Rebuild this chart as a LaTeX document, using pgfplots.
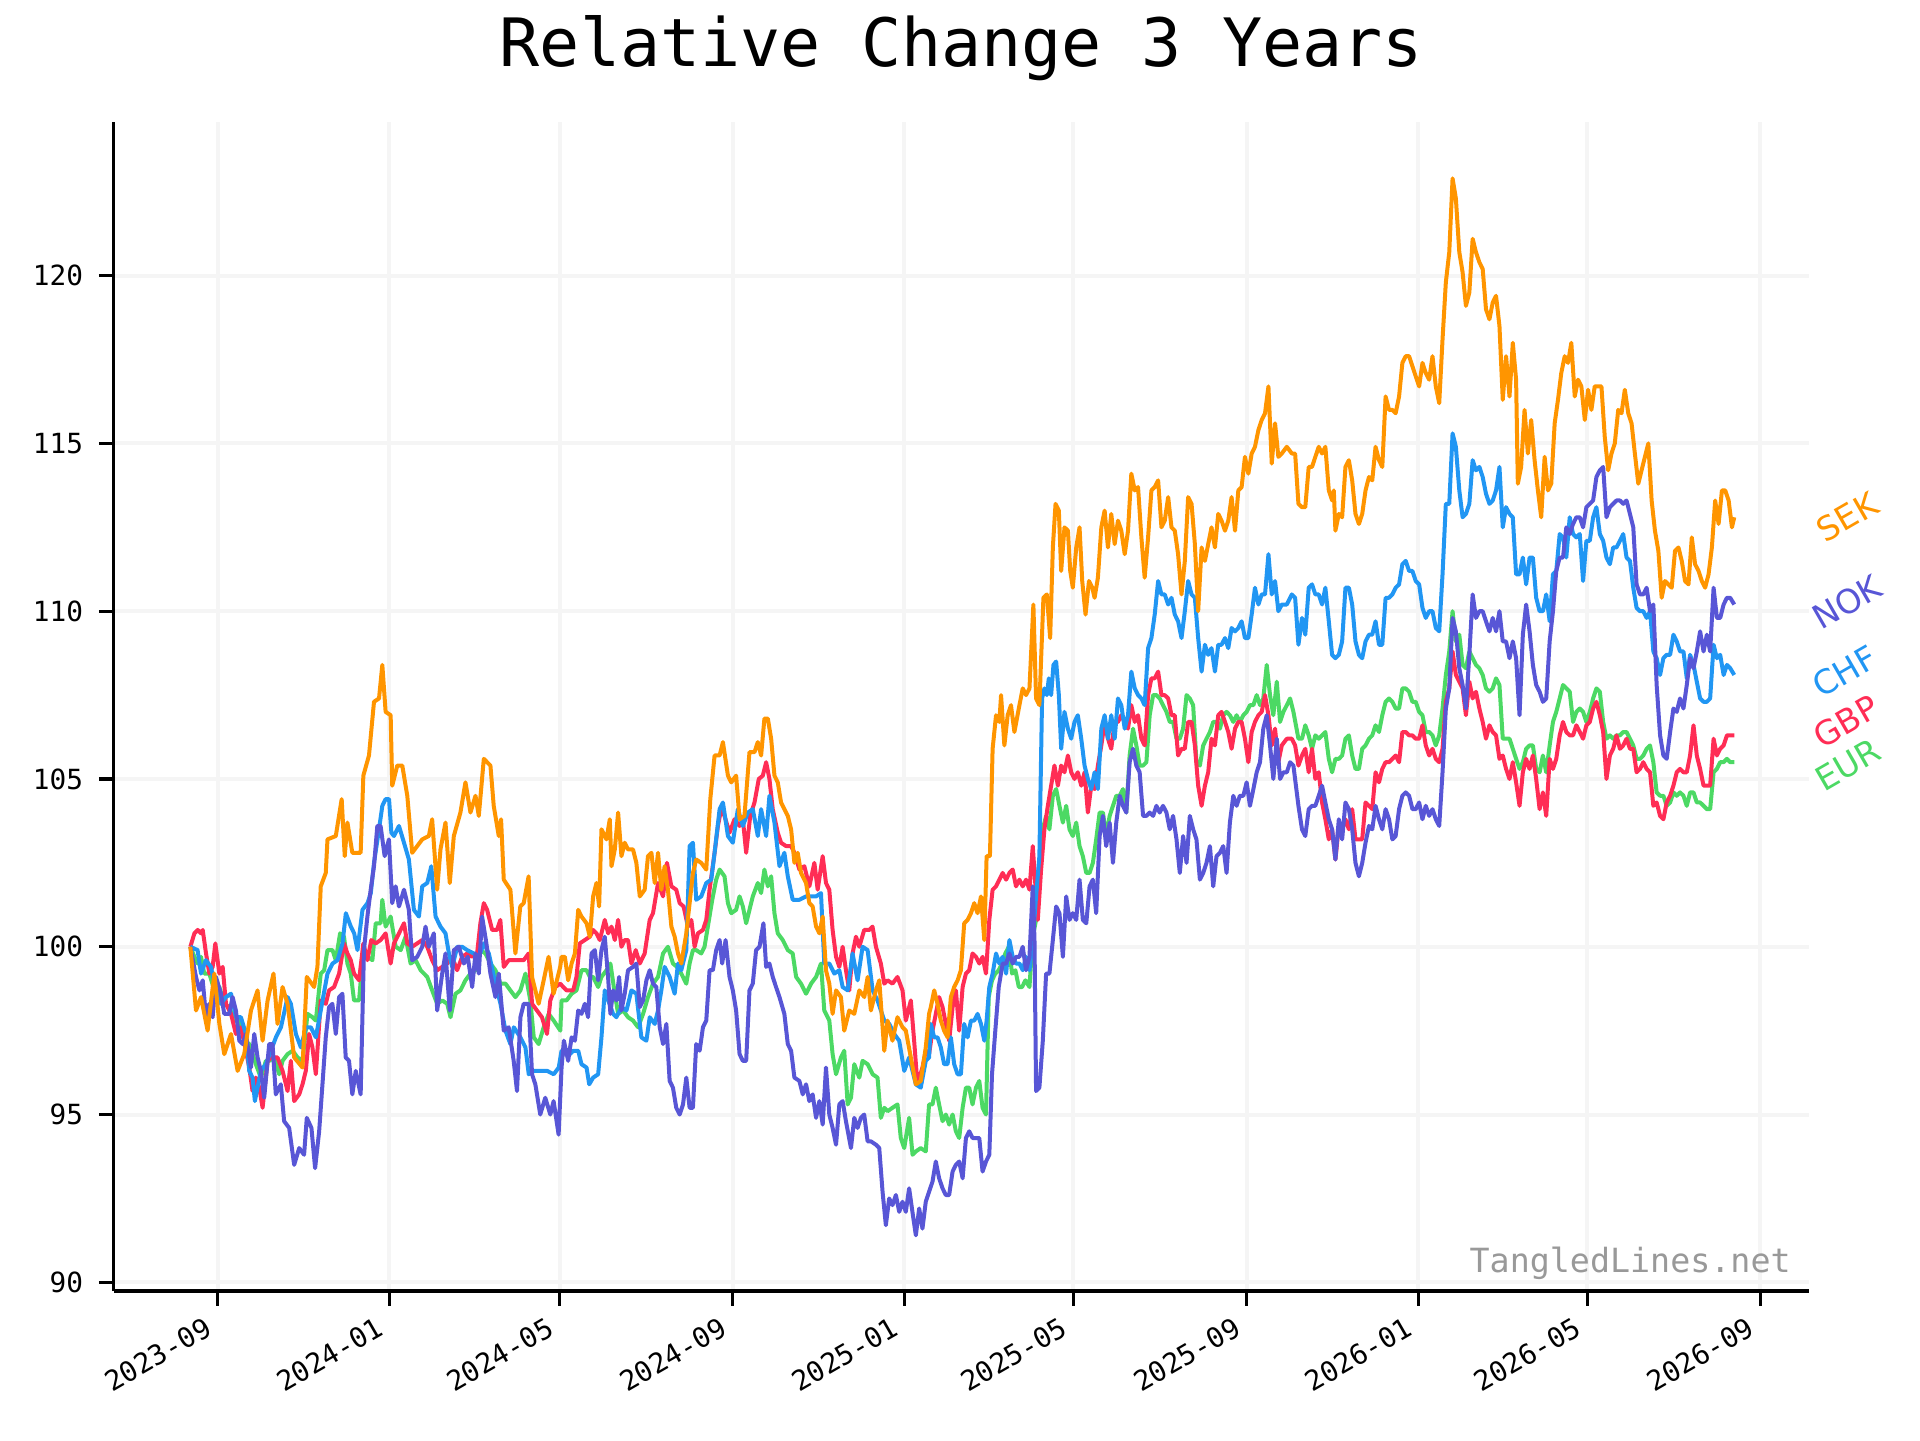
\documentclass[border=0pt]{standalone}
\usepackage{fontspec}
\setmainfont{DejaVu Sans Mono}
\newfontfamily\labelfont{DejaVu Sans}
\usepackage{pgfplots}
\pgfplotsset{compat=1.18}
\definecolor{sekc}{HTML}{FF9500}
\definecolor{nokc}{HTML}{5856D6}
\definecolor{chfc}{HTML}{2196F3}
\definecolor{gbpc}{HTML}{FF2D55}
\definecolor{eurc}{HTML}{4CD964}
\definecolor{gridc}{HTML}{F5F5F5}
\definecolor{wmc}{HTML}{999999}
\begin{document}
\begin{tikzpicture}
\useasboundingbox (-28.4pt,-37.25pt) rectangle (451.6pt,322.75pt);
\begin{axis}[
  scale only axis, width=423.9pt, height=292.25pt,
  xmin=93, xmax=1478, ymin=89.74, ymax=124.58,
  axis x line*=bottom, axis y line*=left,
  xtick pos=bottom, ytick pos=left,
  x axis line style={-, line width=0.9pt, black},
  y axis line style={-, line width=0.9pt, black},
  xtick={178,318.3,457.4,598.8,739,877,1018.4,1158.6,1296.6,1438},
  xticklabels={2023-09,2024-01,2024-05,2024-09,2025-01,2025-05,2025-09,2026-01,2026-05,2026-09},
  ytick={90,95,100,105,110,115,120},
  grid=major, grid style={line width=1pt, gridc},
  tick align=outside, major tick length=3.65pt,
  every tick/.style={black, line width=0.8pt},
  tick label style={font=\fontsize{6.94}{8}\selectfont},
  /pgf/number format/assume math mode=true,
  yticklabel style={anchor=east, inner sep=0pt, xshift=-3.8pt},
  xticklabel style={xshift=-3.5pt, yshift=-2.4pt, rotate=30, anchor=north east, inner sep=0pt},
  clip=false,
  every axis plot/.append style={line width=1pt, line join=round, mark=none},
]
% EUR
\addplot[eurc] coordinates {
(155.7,100.0)(159.0,99.7)(161.7,99.5)(164.4,99.7)(167.1,99.2)(171.2,99.2)(175.3,98.7)(179.4,98.8)(183.4,98.3)(187.5,98.2)(191.6,97.8)(195.7,97.8)(199.7,97.2)(203.8,97.1)(206.5,96.8)(209.2,96.5)(213.3,96.1)(217.4,96.6)(220.1,96.6)(224.2,96.7)(228.3,96.2)(231.0,96.6)(235.1,96.8)(239.2,96.9)(243.3,96.7)(247.3,96.6)(251.4,98.0)(255.5,97.9)(258.2,97.8)(262.2,99.2)(265.0,99.3)(267.7,99.9)(271.8,99.9)(274.5,99.6)(278.0,100.4)(281.2,100.3)(284.0,99.5)(286.7,99.2)(289.4,98.4)(293.5,98.4)(297.0,99.9)(300.3,99.7)(304.4,99.6)(307.1,100.7)(311.1,100.7)(312.5,101.4)(315.2,100.6)(319.3,100.9)(323.4,100.0)(327.5,99.9)(331.5,100.3)(335.6,99.5)(339.7,99.6)(343.8,99.3)(349.2,99.1)(353.2,98.7)(357.3,98.3)(361.4,98.4)(365.5,98.3)(368.2,97.9)(372.3,98.6)(376.3,98.7)(380.4,99.0)(384.5,99.2)(388.6,99.3)(392.6,99.9)(396.7,99.8)(400.8,99.5)(404.9,99.3)(409.0,98.9)(413.1,98.9)(417.1,98.7)(421.2,98.5)(425.3,98.7)(429.4,99.2)(433.4,98.4)(436.2,97.3)(440.2,97.1)(444.3,97.6)(448.4,98.0)(452.5,97.8)(457.9,97.5)
(458.9,98.4)(463.0,98.4)(467.1,98.6)(471.1,98.7)(475.2,99.3)(479.3,99.3)(482.0,99.1)(484.7,99.1)(488.8,98.8)(491.5,99.1)(495.6,99.3)(498.8,99.5)(501.6,98.8)(505.1,98.0)(509.2,98.1)(513.2,97.9)(517.3,97.8)(521.4,97.6)(525.5,98.0)(529.5,98.5)(533.6,98.9)(537.7,99.1)(541.8,99.8)(545.8,100.0)(549.9,99.5)(553.2,99.4)(556.7,99.2)(560.8,98.9)(563.5,99.5)(566.2,99.9)(568.9,99.9)(573.0,99.8)(575.7,100.0)(578.4,100.6)(582.0,101.4)(585.2,102.0)(588.0,102.3)(592.0,102.1)(594.8,101.3)(597.5,101.0)(601.5,101.1)(604.3,101.5)(607.0,101.2)(609.7,100.7)(612.4,101.1)(615.1,101.5)(619.2,101.9)(621.9,101.6)(624.6,102.3)(627.4,101.8)(630.1,102.1)(632.8,101.0)(635.5,100.4)(639.6,100.2)(643.7,99.9)(647.7,99.8)(650.5,99.1)(654.5,98.9)(658.6,98.6)(662.7,98.9)(666.8,99.1)(670.8,99.5)(673.5,98.1)(677.6,97.8)(680.3,96.8)(683.1,96.2)(687.1,96.7)(689.8,96.9)(692.6,95.3)(695.3,95.5)(698.0,96.5)(702.1,96.1)(704.8,96.6)(708.9,96.5)(713.0,96.2)(717.0,96.1)(719.7,94.9)(722.5,95.2)(725.2,95.1)(729.2,95.2)(733.3,95.3)(736.0,94.3)(738.8,94.0)(742.8,94.9)(745.6,93.8)(748.3,93.9)(752.3,94.0)(756.4,93.9)(759.1,95.3)
(761.9,95.3)(764.6,95.8)(767.3,95.3)(770.1,94.8)(772.8,95.0)(775.5,94.7)(778.3,95.0)(781.0,94.5)(783.7,94.3)(786.5,95.2)(789.2,95.8)(791.9,95.8)(794.6,95.3)(797.4,95.8)(800.1,96.0)(802.8,95.2)(805.6,95.0)(807.8,98.5)(810.5,99.0)(813.2,99.2)(816.0,99.3)(818.7,99.5)(821.4,99.8)(824.2,100.0)(826.9,99.2)(829.6,99.3)(832.4,98.8)(835.1,98.8)(837.8,99.0)(841.1,98.8)(843.8,100.3)(846.5,100.8)(849.2,102.2)(852.0,103.5)(854.7,103.9)(857.4,103.5)(860.2,104.5)(862.9,104.7)(865.6,104.2)(868.4,103.7)(871.1,104.2)(873.8,103.5)(876.5,103.3)(879.3,103.7)(882.0,103.0)(884.7,102.7)(887.5,102.2)(890.2,102.2)(892.9,102.5)(895.6,103.2)(898.4,104.0)(901.1,104.0)(903.8,103.3)(906.6,103.9)(909.3,104.2)(912.0,104.5)(914.8,104.5)(917.5,104.7)(920.2,104.0)(922.9,105.7)(925.7,106.5)(928.4,106.0)(931.1,105.4)(933.9,105.4)(936.6,105.5)(939.3,106.9)(942.1,107.5)(944.8,107.5)(947.5,107.4)(950.2,107.2)(953.0,107.0)(955.7,106.7)(958.4,106.7)(961.2,106.2)(963.9,106.2)(966.6,106.5)(969.4,107.5)(972.1,107.4)(974.8,107.2)(977.5,105.5)(980.3,105.4)(983.0,106.0)(985.7,106.2)(988.5,106.4)(991.2,106.7)(993.9,106.7)(996.7,106.5)(999.4,106.9)(1002.1,107.0)(1004.8,106.9)(1007.6,106.7)(1010.3,106.9)(1013.0,106.7)(1015.8,106.9)(1018.5,107.0)(1021.2,107.2)(1024.0,107.2)(1026.7,107.5)(1029.4,107.2)(1032.1,107.4)(1034.9,108.4)(1037.6,107.5)(1040.3,106.9)(1043.1,107.9)(1045.8,106.7)(1048.5,107.0)(1051.3,107.2)(1054.0,107.4)(1056.7,107.0)(1060.8,106.2)
(1063.7,106.2)(1066.4,106.6)(1069.2,106.3)(1071.9,105.9)(1074.6,106.3)(1077.4,106.2)(1080.1,106.3)(1082.8,106.4)(1085.6,105.6)(1088.3,105.2)(1091.0,105.6)(1093.8,105.6)(1096.5,105.7)(1099.2,106.2)(1102.0,106.3)(1104.7,105.7)(1107.4,105.3)(1110.2,105.3)(1112.9,105.9)(1115.6,106.0)(1118.4,106.2)(1121.1,106.3)(1123.8,106.6)(1126.6,106.4)(1129.3,106.9)(1132.0,107.3)(1134.8,107.4)(1137.5,107.3)(1140.2,107.1)(1143.0,107.1)(1145.7,107.7)(1148.4,107.7)(1151.2,107.6)(1153.9,107.3)(1156.6,107.3)(1159.4,107.0)(1162.1,106.9)(1164.8,106.4)(1167.6,106.4)(1170.3,106.3)(1173.0,106.0)(1175.8,106.3)(1178.5,107.1)(1181.2,108.1)(1184.0,108.8)(1186.7,110.0)(1189.4,109.1)(1192.2,109.3)(1194.9,108.4)(1197.6,108.3)(1200.4,108.8)(1203.1,108.6)(1205.8,108.4)(1208.6,108.3)(1211.3,108.1)(1214.0,107.7)(1216.8,107.6)(1219.5,107.7)(1222.2,108.0)(1225.0,107.8)(1227.7,106.2)(1230.4,106.2)(1233.2,106.2)(1235.9,105.9)(1238.6,105.6)(1241.4,105.3)(1244.1,105.5)(1246.8,105.9)(1249.6,106.0)(1252.3,106.0)(1255.0,105.3)(1257.8,105.2)(1260.5,105.7)(1263.2,105.2)(1266.0,106.0)(1268.7,106.7)(1271.4,107.0)(1274.2,107.4)(1276.9,107.8)(1279.6,107.7)(1282.4,107.6)(1285.1,106.7)(1287.8,107.0)(1290.6,107.1)(1293.3,107.0)(1296.0,106.7)(1298.8,107.0)(1301.5,107.4)(1304.2,107.7)(1307.0,107.6)(1309.7,106.7)(1312.4,106.2)(1315.2,106.3)(1317.9,106.2)(1320.6,106.3)(1323.4,106.3)(1326.1,106.4)(1328.8,106.4)(1331.6,106.2)(1334.3,106.0)(1337.0,105.6)(1339.8,105.6)(1342.5,105.7)(1345.2,105.9)(1348.0,106.0)(1350.7,105.5)(1353.4,104.6)(1356.2,104.5)(1358.9,104.5)(1361.6,104.2)(1364.4,104.3)(1367.1,104.6)(1369.8,104.5)(1372.5,104.6)(1375.3,104.5)(1378.0,104.2)(1380.7,104.6)(1383.5,104.6)(1386.2,104.3)(1388.9,104.3)(1391.7,104.2)(1394.4,104.1)(1397.1,104.1)(1399.9,105.2)(1402.6,105.3)(1405.3,105.5)(1408.1,105.5)(1410.8,105.6)(1413.5,105.5)(1416.8,105.5)
};
% GBP
\addplot[gbpc] coordinates {
(155.7,100.0)(159.0,100.4)(161.7,100.5)(164.4,100.4)(165.8,100.5)(168.5,99.8)(171.2,99.2)(173.9,99.4)(176.1,100.1)(179.4,99.2)(182.1,99.4)(184.8,98.3)(188.9,98.0)(192.9,97.4)(197.0,97.6)(201.1,96.9)(203.8,96.4)(206.5,95.7)(209.2,96.1)(212.0,95.8)(214.7,95.2)(218.8,96.6)(221.5,96.7)(226.9,96.7)(231.0,96.3)(235.1,95.7)(237.8,96.6)(240.5,95.4)(244.6,95.6)(247.3,95.9)(250.0,96.3)(252.7,97.4)(255.4,97.0)(258.2,96.2)(262.2,98.4)(266.3,98.3)(269.0,98.7)(273.1,98.8)(277.2,99.2)(281.2,100.1)(284.0,99.8)(286.7,99.6)(289.4,99.2)(293.5,99.0)(297.0,100.1)(300.3,99.6)(303.5,100.2)(307.1,100.1)(311.1,100.2)(315.2,100.4)(319.3,99.5)(322.0,100.1)(326.1,100.4)(330.2,100.7)(332.9,100.1)(336.9,100.0)(341.0,100.1)(345.1,100.2)(349.2,100.0)(353.2,99.6)(357.3,99.3)(361.4,99.4)(365.5,99.5)(369.5,99.7)(373.6,99.3)(377.7,99.7)(381.8,99.8)(385.9,99.7)(389.9,99.8)(392.6,100.7)(395.4,101.3)(398.1,101.1)(402.2,100.5)(406.2,100.5)(408.9,100.8)(411.7,99.4)(415.7,99.6)(419.8,99.6)(423.9,99.6)(428.0,99.6)(432.0,99.8)(434.8,98.3)(438.8,98.1)(442.9,97.9)(447.0,97.4)(449.7,98.4)(453.8,98.8)(457.8,98.9)
(460.3,98.8)(463.0,98.7)(465.7,98.7)(468.4,98.7)(471.1,99.1)(473.8,100.1)(477.9,100.2)(482.0,100.3)(484.7,100.5)(487.4,100.4)(490.1,100.2)(494.2,100.8)(497.0,100.4)(499.7,100.6)(502.4,100.2)(505.1,100.8)(507.8,100.0)(510.5,100.2)(513.2,100.2)(516.0,99.5)(519.5,99.9)(522.8,99.5)(526.8,99.8)(530.9,100.8)(533.6,101.0)(537.7,101.9)(541.8,101.5)(545.0,102.5)(548.6,101.8)(552.6,101.7)(555.4,101.3)(558.6,101.2)(562.1,100.6)(564.9,100.8)(567.6,100.0)(570.3,100.4)(574.4,100.5)(577.1,100.8)(579.8,101.7)(583.9,102.8)(586.6,103.6)(589.3,104.1)(592.0,103.9)(596.1,103.4)(600.2,103.8)(604.3,103.6)(607.0,103.8)(609.7,102.8)(613.0,103.9)(616.5,104.3)(620.0,105.0)(623.3,105.1)(626.0,105.5)(628.7,105.0)(631.4,104.1)(635.5,103.4)(638.2,103.1)(642.3,103.0)(646.4,103.0)(649.1,102.8)(653.2,102.3)(657.2,102.4)(661.3,101.8)(665.4,102.5)(668.1,101.7)(672.2,102.7)(674.9,101.9)(677.6,101.7)(680.3,100.5)(683.1,99.7)(685.8,99.4)(688.5,100.0)(691.2,99.3)(693.9,98.7)(696.6,99.8)(699.4,100.3)(702.1,100.0)(706.1,100.5)(710.2,100.5)(712.9,100.6)(715.7,100.0)(719.7,99.5)(722.5,98.9)(725.2,99.0)(729.2,98.9)(733.3,99.1)(737.4,98.7)(740.1,97.8)(744.2,98.4)(746.9,97.2)(749.6,95.9)(753.7,96.4)(756.4,96.9)(759.1,96.8)
(761.9,97.5)(764.6,98.0)(767.3,98.5)(770.1,98.2)(772.8,97.7)(775.5,97.2)(778.3,98.2)(781.0,98.7)(783.7,97.5)(786.5,98.8)(789.2,99.2)(791.9,99.3)(794.6,99.8)(797.4,99.7)(800.1,99.5)(802.8,99.7)(805.6,99.2)(808.3,100.8)(811.0,101.7)(813.8,101.8)(816.5,102.0)(819.2,102.2)(822.0,102.0)(824.7,102.2)(827.4,102.3)(830.1,101.8)(832.9,102.0)(835.6,101.8)(838.3,102.0)(841.1,101.7)(843.8,103.0)(846.0,101.8)(847.9,100.8)(850.6,102.3)(853.3,103.5)(856.1,104.2)(858.8,104.8)(861.5,105.4)(864.3,104.8)(867.0,105.4)(869.7,105.2)(872.5,105.7)(875.2,105.2)(877.9,105.0)(880.6,105.2)(883.4,104.8)(886.1,105.2)(888.8,104.0)(891.6,104.8)(894.3,104.7)(897.0,105.4)(899.8,106.0)(902.5,106.7)(905.2,106.2)(907.9,105.9)(910.7,106.7)(913.4,106.7)(916.1,106.9)(918.9,106.7)(921.6,106.5)(924.3,107.2)(927.1,106.7)(929.8,106.9)(932.5,106.2)(935.2,106.0)(938.0,107.5)(940.7,108.0)(943.4,108.0)(946.2,108.2)(948.9,107.5)(951.6,107.5)(954.4,107.4)(957.1,106.9)(959.8,106.9)(962.5,105.7)(965.3,105.9)(968.0,105.9)(970.7,106.7)(973.5,106.7)(976.2,106.0)(978.9,104.8)(981.7,104.2)(984.4,104.8)(987.1,105.2)(989.8,106.2)(992.6,106.0)(995.3,106.9)(998.0,107.0)(1000.8,106.7)(1003.5,106.4)(1006.2,105.9)(1009.0,106.5)(1011.7,106.7)(1014.4,106.7)(1017.1,106.2)(1019.9,105.5)(1022.6,106.4)(1025.3,106.7)(1028.1,106.9)(1030.8,107.0)(1033.5,107.5)(1036.3,106.9)(1039.0,106.0)(1041.7,106.5)(1044.4,105.5)(1047.2,106.0)(1051.3,106.2)(1055.4,106.2)(1058.1,106.0)(1060.8,105.4)
(1063.7,105.7)(1066.4,105.9)(1069.2,105.2)(1071.9,105.9)(1074.6,105.0)(1077.4,105.2)(1080.1,104.3)(1082.8,103.8)(1085.6,103.2)(1088.3,103.5)(1091.0,102.6)(1093.8,103.6)(1096.5,103.5)(1099.2,103.8)(1102.0,103.5)(1104.7,104.1)(1107.4,103.2)(1110.2,103.2)(1112.9,103.2)(1115.6,104.3)(1118.4,104.2)(1121.1,104.1)(1123.8,105.2)(1126.6,104.9)(1129.3,105.3)(1132.0,105.5)(1134.8,105.5)(1137.5,105.6)(1140.2,105.7)(1143.0,105.5)(1145.7,106.4)(1148.4,106.4)(1151.2,106.3)(1153.9,106.3)(1156.6,106.2)(1159.4,106.2)(1162.1,106.6)(1164.8,106.0)(1167.6,105.7)(1170.3,105.9)(1173.0,105.6)(1175.8,105.5)(1178.5,105.9)(1181.2,107.3)(1184.0,107.7)(1186.7,108.8)(1189.4,108.1)(1192.2,107.9)(1194.9,107.7)(1197.6,106.9)(1200.4,107.9)(1203.1,107.4)(1205.8,107.6)(1208.6,107.1)(1211.3,106.7)(1214.0,106.2)(1216.8,106.6)(1219.5,106.4)(1222.2,106.3)(1225.0,105.6)(1227.7,105.7)(1230.4,105.3)(1233.2,105.0)(1235.9,105.5)(1238.6,104.9)(1241.4,104.2)(1244.1,105.2)(1246.8,105.6)(1249.6,105.3)(1252.3,105.7)(1255.0,105.0)(1257.8,104.1)(1260.5,104.6)(1263.2,103.9)(1266.0,105.6)(1268.7,105.3)(1271.4,105.6)(1274.2,106.3)(1276.9,106.7)(1279.6,106.4)(1282.4,106.3)(1285.1,106.3)(1287.8,106.6)(1290.6,106.4)(1293.3,106.2)(1296.0,106.6)(1298.8,106.7)(1301.5,107.1)(1304.2,107.3)(1307.0,106.9)(1309.7,106.4)(1312.4,105.0)(1315.2,105.7)(1317.9,105.9)(1320.6,106.3)(1323.4,105.9)(1326.1,106.0)(1328.8,106.2)(1331.6,105.9)(1334.3,105.9)(1337.0,105.2)(1339.8,105.3)(1342.5,105.5)(1345.2,105.3)(1348.0,105.2)(1350.7,104.2)(1353.4,104.3)(1356.2,103.9)(1358.9,103.8)(1361.6,104.3)(1364.4,104.5)(1367.1,104.8)(1369.8,105.2)(1372.5,105.3)(1375.3,105.2)(1378.0,105.2)(1380.7,105.7)(1383.5,106.6)(1386.2,105.7)(1388.9,105.3)(1391.7,104.8)(1394.4,104.8)(1397.1,104.8)(1399.9,106.2)(1402.6,105.7)(1405.3,105.9)(1408.1,106.0)(1410.8,106.3)(1413.5,106.3)(1416.8,106.3)
};
% CHF
\addplot[chfc] coordinates {
(155.7,100.0)(161.6,99.9)(164.4,99.2)(168.4,99.6)(172.5,99.4)(176.6,98.7)(180.7,98.3)(184.8,98.5)(188.9,98.6)(193.0,97.9)(197.0,97.9)(201.1,97.4)(203.8,96.3)(206.5,96.1)(208.4,95.4)(213.3,96.3)(217.4,96.5)(221.5,96.9)(225.6,97.3)(229.7,97.6)(235.1,98.5)(237.8,98.3)(241.9,97.4)(246.0,97.0)(250.1,97.6)(254.1,97.6)(258.2,97.3)(263.7,98.4)(267.7,99.2)(271.8,99.5)(275.9,99.6)(280.0,100.1)(282.7,101.0)(286.8,100.6)(289.5,100.4)(292.2,99.9)(296.3,101.1)(300.4,101.3)(303.1,101.6)(305.7,102.5)(309.8,103.5)(312.5,104.2)(315.2,104.4)(318.0,104.4)(319.9,103.4)(322.0,103.3)(326.1,103.6)(330.2,103.1)(334.2,102.6)(338.3,101.1)(342.4,100.9)(345.1,101.8)(349.2,101.9)(352.5,102.4)(356.0,100.9)(360.0,100.6)(364.1,100.4)(366.9,99.8)(369.6,99.4)(373.7,100.0)(377.7,100.0)(381.8,99.9)(387.2,99.8)(391.3,99.7)(395.4,100.1)(399.5,99.8)(404.9,98.9)(409.0,98.3)(413.1,97.5)(417.1,97.1)(419.9,97.6)(425.3,97.3)(429.4,97.0)(432.1,96.2)(436.2,96.3)(441.6,96.3)(447.1,96.3)(452.5,96.2)(456.6,96.4)
(458.9,96.9)(463.0,96.9)(465.7,96.8)(468.4,96.9)(472.5,96.9)(475.2,96.5)(479.3,96.4)(481.5,95.9)(484.7,96.1)(488.8,96.2)(491.5,97.3)(494.2,98.7)(497.0,98.4)(501.0,98.0)(503.7,97.9)(507.8,98.2)(511.9,98.1)(516.0,98.7)(520.0,98.6)(524.1,97.3)(528.2,97.2)(530.9,97.9)(535.0,97.7)(537.7,98.1)(540.4,98.7)(543.1,99.4)(547.2,99.1)(551.3,98.6)(554.0,99.5)(556.7,99.3)(560.8,99.9)(563.5,103.0)(566.2,103.1)(568.9,101.4)(573.0,101.5)(577.1,101.9)(581.2,102.0)(583.9,102.8)(588.0,104.1)(590.7,104.3)(594.8,103.3)(598.8,103.1)(602.9,104.1)(607.0,103.6)(611.1,104.0)(615.1,104.1)(619.2,103.3)(621.9,104.1)(626.0,103.3)(628.7,104.5)(632.8,103.7)(636.9,102.4)(640.9,102.8)(643.7,102.1)(647.7,101.4)(653.2,101.4)(658.6,101.5)(662.7,101.5)(666.8,101.5)(670.8,101.6)(673.5,99.5)(677.6,99.5)(681.7,99.2)(685.8,99.3)(688.5,98.8)(692.6,98.7)(696.6,99.8)(700.7,99.0)(704.8,100.0)(708.9,99.9)(713.0,98.7)(717.0,98.4)(722.5,97.8)(726.6,97.7)(730.6,97.4)(734.7,97.2)(738.8,96.3)(742.8,96.7)(748.3,95.9)(752.3,95.8)(756.4,96.6)(759.1,96.7)
(760.5,97.7)(763.3,97.3)(766.0,97.3)(768.7,97.0)(771.4,96.5)(774.2,96.5)(776.9,97.3)(779.6,96.5)(782.4,96.2)(785.1,96.2)(787.8,97.7)(790.6,97.3)(793.3,97.8)(796.0,97.8)(798.7,98.0)(801.5,97.7)(804.2,97.2)(806.1,97.8)(808.3,98.8)(811.0,99.2)(813.8,99.8)(816.5,99.5)(819.2,99.7)(822.0,99.2)(824.7,100.2)(827.4,99.7)(830.1,99.5)(832.9,99.5)(835.6,99.3)(838.3,99.7)(841.1,99.3)(843.8,100.2)(846.5,101.5)(849.2,102.7)(851.4,107.4)(853.3,107.7)(855.3,107.5)(856.9,108.0)(858.8,107.5)(860.7,108.4)(862.9,108.5)(865.1,107.5)(867.0,105.9)(869.7,107.0)(872.5,106.5)(875.2,106.2)(877.9,106.7)(880.6,106.9)(883.4,106.2)(886.1,105.4)(888.8,105.0)(891.6,104.7)(894.3,105.2)(897.0,104.7)(899.8,106.5)(902.5,106.9)(905.2,106.2)(907.9,106.9)(910.7,106.2)(913.4,107.4)(916.1,107.2)(918.9,106.5)(921.6,106.9)(924.3,108.2)(927.1,107.7)(929.8,107.5)(932.5,107.4)(935.2,107.2)(938.0,108.9)(940.7,109.2)(943.4,109.9)(946.2,110.9)(948.9,110.5)(951.6,110.5)(954.4,110.2)(957.1,110.4)(959.8,109.9)(962.5,109.7)(965.3,109.2)(968.0,110.0)(970.7,110.9)(973.5,110.5)(976.2,110.4)(978.9,109.2)(981.7,108.2)(984.4,109.0)(987.1,108.7)(989.8,108.9)(992.6,108.2)(995.3,109.0)(998.0,109.0)(1000.8,109.2)(1003.5,108.9)(1006.2,109.5)(1009.0,109.4)(1011.7,109.5)(1014.4,109.7)(1017.1,109.2)(1019.9,109.2)(1022.6,109.9)(1025.3,110.7)(1028.1,110.2)(1030.8,110.5)(1033.5,110.5)(1036.3,111.7)(1039.0,110.5)(1041.7,110.9)(1044.4,110.0)(1047.2,110.2)(1051.3,110.2)(1055.4,110.5)(1058.1,110.4)(1060.8,109.0)
(1063.7,109.8)(1066.4,109.3)(1069.2,110.7)(1071.9,110.8)(1074.6,110.5)(1077.4,110.5)(1080.1,110.2)(1082.8,110.7)(1085.6,109.7)(1088.3,108.7)(1091.0,108.6)(1093.8,108.7)(1096.5,109.1)(1099.2,110.7)(1102.0,110.7)(1104.7,110.2)(1107.4,109.1)(1110.2,108.7)(1112.9,108.6)(1115.6,109.1)(1118.4,109.3)(1121.1,109.3)(1123.8,109.7)(1126.6,109.0)(1129.3,109.0)(1132.0,110.4)(1134.8,110.4)(1137.5,110.5)(1140.2,110.7)(1143.0,110.8)(1145.7,111.4)(1148.4,111.5)(1151.2,111.2)(1153.9,111.2)(1156.6,110.9)(1159.4,110.8)(1162.1,110.1)(1164.8,109.8)(1167.6,110.0)(1170.3,110.0)(1173.0,109.5)(1175.8,109.4)(1178.5,111.1)(1181.2,113.2)(1184.0,113.2)(1186.7,115.3)(1189.4,114.9)(1192.2,113.6)(1194.9,112.8)(1197.6,112.9)(1200.4,113.2)(1203.1,114.5)(1205.8,114.2)(1208.6,114.3)(1211.3,114.0)(1214.0,113.5)(1216.8,113.2)(1219.5,113.3)(1222.2,113.6)(1225.0,114.3)(1227.7,112.5)(1230.4,113.1)(1233.2,112.9)(1235.9,112.8)(1238.6,111.1)(1241.4,111.1)(1244.1,111.6)(1246.8,110.8)(1249.6,111.6)(1252.3,111.6)(1255.0,110.4)(1257.8,110.0)(1260.5,110.0)(1263.2,110.5)(1266.0,109.7)(1268.7,111.1)(1271.4,111.2)(1274.2,112.3)(1276.9,112.2)(1279.6,111.6)(1282.4,112.8)(1285.1,112.3)(1287.8,112.2)(1290.6,112.3)(1293.3,110.9)(1296.0,112.1)(1298.8,112.1)(1301.5,112.8)(1304.2,113.1)(1307.0,112.3)(1309.7,112.1)(1312.4,111.6)(1315.2,111.4)(1317.9,111.9)(1320.6,111.9)(1323.4,112.1)(1326.1,112.3)(1328.8,111.6)(1331.6,111.5)(1334.3,110.7)(1337.0,110.1)(1339.8,110.0)(1342.5,110.0)(1345.2,109.8)(1348.0,110.0)(1350.7,108.8)(1353.4,108.6)(1356.2,108.1)(1358.9,108.6)(1361.6,108.7)(1364.4,108.7)(1367.1,109.3)(1369.8,109.1)(1372.5,108.8)(1375.3,108.8)(1378.0,108.0)(1380.7,108.7)(1383.5,108.4)(1386.2,107.9)(1388.9,107.4)(1391.7,107.3)(1394.4,107.3)(1397.1,107.4)(1399.9,109.0)(1402.6,108.6)(1405.3,108.7)(1408.1,108.1)(1410.8,108.4)(1413.5,108.3)(1416.8,108.1)
};
% NOK
\addplot[nokc] coordinates {
(155.7,100.0)(160.3,99.1)(163.1,98.7)(165.8,99.0)(168.5,97.9)(171.2,98.3)(173.9,97.9)(176.6,99.1)(180.7,98.6)(183.4,98.0)(187.5,98.0)(190.2,98.5)(192.9,98.1)(195.7,97.2)(198.4,97.1)(201.1,97.4)(205.2,96.4)(207.9,97.4)(210.6,96.7)(213.3,96.3)(216.0,95.5)(220.1,97.1)(222.8,97.1)(225.5,95.6)(229.6,95.9)(232.3,94.8)(236.4,94.6)(240.5,93.5)(244.6,94.0)(248.6,93.8)(250.8,94.9)(254.6,94.6)(257.6,93.4)(260.9,94.5)(263.6,95.9)(266.3,97.3)(269.0,98.2)(271.7,98.3)(274.5,97.4)(277.2,98.5)(279.9,98.6)(282.6,96.7)(285.3,96.6)(288.0,95.6)(290.8,96.3)(294.8,95.6)(297.5,99.9)(300.3,100.9)(303.0,101.7)(305.7,102.4)(308.4,103.6)(311.1,103.6)(314.4,102.7)(317.9,103.2)(320.6,101.3)(323.4,101.8)(326.1,101.2)(330.2,101.7)(334.2,101.1)(336.9,99.6)(341.0,99.7)(345.1,100.0)(347.8,100.6)(350.5,100.0)(354.6,100.4)(357.3,98.1)(361.4,99.2)(364.1,99.8)(367.6,98.1)(370.9,99.9)(375.0,100.0)(379.1,99.5)(382.3,99.7)(385.9,98.8)(388.6,99.8)(391.3,99.2)(394.0,100.9)(397.5,100.1)(400.8,99.2)(404.9,98.5)(407.6,99.2)(411.7,97.5)(415.7,97.6)(419.8,96.6)(422.5,95.7)(425.3,97.9)(428.0,98.3)(432.0,98.3)(434.8,96.2)(437.5,95.9)(441.5,95.0)(445.6,95.5)(449.7,95.0)(452.4,95.4)(456.5,94.4)
(458.9,96.4)(460.8,97.2)(464.3,96.6)(467.1,97.3)(469.8,97.2)(472.5,98.1)(475.2,98.0)(477.9,98.3)(480.6,97.9)(483.4,99.8)(486.1,99.9)(488.8,99.0)(491.5,99.9)(494.2,100.3)(496.9,99.1)(498.8,98.0)(501.0,98.7)(503.7,98.4)(505.9,99.1)(507.8,98.1)(510.5,98.6)(513.2,99.3)(517.3,99.4)(520.0,99.5)(522.8,98.2)(525.5,98.4)(528.2,99.0)(530.9,99.3)(533.6,98.9)(536.3,98.8)(539.1,97.6)(541.8,97.1)(544.5,97.7)(547.2,96.0)(549.9,95.8)(552.6,95.2)(555.4,95.0)(558.1,95.3)(560.8,96.1)(563.5,95.2)(566.2,95.2)(568.9,97.1)(571.7,96.9)(574.4,97.6)(577.1,97.8)(579.8,99.3)(582.5,99.3)(585.2,99.9)(588.0,100.2)(590.1,99.5)(592.9,100.2)(596.1,99.1)(598.8,98.7)(601.5,98.1)(604.3,96.8)(607.0,96.6)(609.7,96.6)(612.4,98.7)(615.1,98.9)(617.8,99.9)(620.6,100.0)(623.8,100.7)(626.0,99.4)(628.7,99.5)(631.4,99.1)(634.1,98.8)(636.9,98.5)(640.9,98.0)(643.7,97.1)(646.4,96.9)(649.1,96.1)(653.2,96.0)(655.9,95.6)(658.6,95.9)(661.3,95.4)(664.0,95.6)(666.8,94.9)(669.5,95.4)(672.2,94.7)(674.9,96.4)(677.6,95.0)(680.3,94.6)(683.1,94.1)(685.8,95.3)(688.5,95.4)(691.2,94.8)(695.3,94.0)(698.0,94.9)(700.7,94.6)(703.4,94.9)(706.1,95.0)(708.9,94.2)(711.6,94.2)(715.7,94.1)(718.4,94.0)(721.1,92.7)(723.8,91.7)(726.5,92.5)(729.2,92.3)(732.0,92.6)(734.7,92.1)(737.4,92.4)(740.1,92.1)(742.8,92.8)(745.5,92.1)(748.3,91.4)(751.0,92.2)(753.7,91.6)(756.4,92.4)(759.1,92.7)
(761.9,93.0)(764.6,93.6)(767.3,93.1)(770.1,92.8)(772.8,92.6)(775.5,92.6)(778.3,93.3)(781.0,93.5)(783.7,93.6)(786.5,93.1)(789.2,94.3)(791.9,94.5)(794.6,94.3)(797.4,94.3)(800.1,94.3)(802.8,93.3)(805.6,93.6)(808.3,93.8)(810.5,96.2)(813.2,97.5)(816.0,98.8)(819.2,99.5)(822.0,99.5)(824.7,99.8)(827.4,99.5)(830.1,99.7)(832.9,99.7)(835.6,100.0)(838.3,99.3)(841.1,99.7)(843.8,101.8)(845.2,100.2)(846.5,95.7)(849.2,95.8)(852.0,97.2)(854.7,99.2)(857.4,99.2)(860.2,100.2)(862.9,101.2)(865.6,101.0)(868.4,99.7)(871.1,101.5)(873.8,100.8)(876.5,101.0)(879.3,100.8)(882.0,102.0)(884.7,100.8)(887.5,100.7)(890.2,101.8)(892.9,102.0)(895.6,101.0)(898.4,103.3)(901.1,103.9)(903.8,103.0)(906.6,103.7)(909.3,102.5)(912.0,103.7)(914.8,104.5)(917.5,104.2)(920.2,104.0)(922.9,105.5)(925.7,105.9)(928.4,105.4)(931.1,105.2)(933.9,103.9)(936.6,103.9)(939.3,104.0)(942.1,103.9)(944.8,104.2)(947.5,104.0)(950.2,104.2)(953.0,104.0)(955.7,103.5)(958.4,103.9)(961.2,103.2)(963.9,102.2)(966.6,103.3)(969.4,102.5)(972.1,103.9)(974.8,103.5)(977.5,103.2)(980.3,102.0)(983.0,102.2)(985.7,102.5)(988.5,103.0)(991.2,101.8)(993.9,102.7)(996.7,102.8)(999.4,103.0)(1002.1,102.2)(1004.8,103.7)(1007.6,104.5)(1010.3,104.2)(1013.0,104.5)(1015.8,104.5)(1018.5,104.9)(1021.2,104.2)(1024.0,104.7)(1026.7,105.2)(1029.4,105.5)(1032.1,106.5)(1034.9,106.9)(1037.6,106.0)(1040.3,105.0)(1043.1,106.2)(1045.8,105.0)(1048.5,105.2)(1051.3,105.2)(1054.0,105.5)(1056.7,105.4)(1060.8,104.2)
(1063.7,103.5)(1066.4,103.3)(1069.2,104.1)(1071.9,104.2)(1074.6,104.2)(1077.4,104.5)(1080.1,104.8)(1082.8,104.3)(1085.6,103.8)(1088.3,103.5)(1091.0,102.6)(1093.8,103.8)(1096.5,103.2)(1099.2,104.3)(1102.0,104.1)(1104.7,103.5)(1107.4,102.5)(1110.2,102.1)(1112.9,102.5)(1115.6,103.1)(1118.4,103.6)(1121.1,103.5)(1123.8,104.2)(1126.6,103.8)(1129.3,103.5)(1132.0,104.1)(1134.8,103.8)(1137.5,103.2)(1140.2,103.3)(1143.0,104.1)(1145.7,104.5)(1148.4,104.6)(1151.2,104.5)(1153.9,104.1)(1156.6,104.1)(1159.4,104.3)(1162.1,103.8)(1164.8,104.2)(1167.6,103.9)(1170.3,104.1)(1173.0,103.8)(1175.8,103.6)(1178.5,105.2)(1181.2,107.1)(1184.0,107.7)(1186.7,109.8)(1189.4,109.4)(1192.2,108.3)(1194.9,107.8)(1197.6,107.1)(1200.4,108.7)(1203.1,110.5)(1205.8,109.8)(1208.6,110.0)(1211.3,110.0)(1214.0,109.7)(1216.8,109.4)(1219.5,109.8)(1222.2,109.4)(1225.0,110.0)(1227.7,109.1)(1230.4,109.1)(1233.2,108.6)(1235.9,109.1)(1238.6,108.6)(1241.4,106.9)(1244.1,109.3)(1246.8,110.2)(1249.6,109.4)(1252.3,108.4)(1255.0,107.8)(1257.8,107.6)(1260.5,107.3)(1263.2,107.4)(1266.0,109.1)(1268.7,110.0)(1271.4,111.2)(1274.2,111.6)(1276.9,111.6)(1279.6,112.5)(1282.4,112.3)(1285.1,112.6)(1287.8,112.8)(1290.6,112.8)(1293.3,112.5)(1296.0,113.1)(1298.8,113.2)(1301.5,113.3)(1304.2,114.0)(1307.0,114.2)(1309.7,114.3)(1312.4,112.8)(1315.2,113.1)(1317.9,113.2)(1320.6,113.3)(1323.4,113.3)(1326.1,113.2)(1328.8,113.3)(1331.6,112.9)(1334.3,112.5)(1337.0,110.8)(1339.8,110.5)(1342.5,110.5)(1345.2,110.7)(1348.0,110.0)(1350.7,110.2)(1353.4,107.8)(1356.2,106.3)(1358.9,105.7)(1361.6,105.6)(1364.4,106.4)(1367.1,107.1)(1369.8,107.0)(1372.5,107.4)(1375.3,107.1)(1378.0,107.8)(1380.7,108.6)(1383.5,108.3)(1386.2,108.8)(1388.9,109.4)(1391.7,108.8)(1394.4,109.3)(1397.1,108.8)(1399.9,110.7)(1402.6,109.8)(1405.3,109.8)(1408.1,110.2)(1410.8,110.4)(1413.5,110.4)(1416.8,110.2)
};
% SEK
\addplot[sekc] coordinates {
(155.7,100.0)(160.3,98.1)(164.4,98.5)(169.8,97.5)(175.3,99.2)(179.4,97.7)(183.4,96.8)(188.9,97.4)(194.3,96.3)(199.7,96.8)(205.2,98.1)(210.6,98.7)(214.7,97.2)(218.8,98.4)(223.6,99.2)(226.9,97.7)(231.0,98.8)(235.1,98.3)(240.5,96.7)(247.3,96.4)(250.8,99.1)(256.8,98.8)(259.5,99.4)(262.2,101.8)(266.3,102.2)(267.7,103.2)(274.5,103.3)(279.3,104.4)(281.8,102.7)(284.0,103.7)(288.0,102.8)(294.8,102.8)(297.0,105.1)(301.6,105.7)(305.7,107.3)(309.8,107.4)(312.5,108.4)(315.2,107.0)(319.3,106.9)(320.6,104.8)(324.7,105.4)(328.8,105.4)(332.9,104.5)(336.9,102.8)(341.0,103.0)(345.1,103.2)(350.5,103.3)(353.2,103.8)(357.3,101.7)(360.0,102.9)(364.1,103.7)(367.6,101.9)(370.9,103.3)(376.3,104.0)(380.4,104.9)(384.5,104.0)(388.6,104.5)(391.3,103.9)(395.4,105.6)(400.8,105.4)(403.5,104.2)(407.6,103.3)(409.5,103.8)(411.7,102.0)(417.1,101.7)(421.2,99.8)(425.2,101.2)(428.0,101.3)(432.0,102.1)(434.8,99.1)(440.2,98.3)(444.3,99.0)(448.3,99.7)(452.4,98.6)(457.8,99.4)
(458.9,99.7)(461.6,99.7)(464.3,99.0)(467.1,99.5)(469.8,99.8)(472.5,101.1)(475.2,100.9)(479.3,100.7)(482.0,100.3)(484.7,101.5)(487.4,101.9)(489.6,101.2)(491.5,103.5)(495.6,103.2)(498.3,103.8)(499.7,102.4)(502.4,102.9)(505.1,104.0)(507.8,102.7)(510.5,103.1)(513.2,102.9)(517.3,102.9)(520.0,102.5)(522.8,101.5)(526.8,101.7)(529.5,102.7)(532.3,102.8)(535.0,101.9)(537.7,102.8)(540.4,101.7)(543.1,102.4)(545.8,101.7)(548.6,100.6)(551.3,100.3)(554.0,99.8)(556.7,99.5)(560.8,100.4)(563.5,101.3)(566.2,102.2)(568.9,102.6)(573.0,102.5)(577.1,102.3)(580.4,104.4)(583.9,105.7)(588.0,105.7)(590.7,106.1)(594.8,105.1)(597.5,104.9)(601.5,105.1)(604.3,103.8)(608.3,103.9)(612.4,105.8)(616.5,105.8)(619.2,106.1)(621.9,105.7)(624.6,106.8)(627.4,106.8)(630.1,106.2)(632.8,105.1)(635.5,104.9)(638.2,104.3)(640.9,104.1)(643.7,103.9)(646.4,103.5)(649.1,102.5)(651.8,102.8)(654.5,102.2)(658.6,101.9)(661.3,101.3)(664.0,101.2)(666.8,100.6)(669.5,100.4)(672.2,100.9)(674.9,99.3)(677.6,98.9)(680.3,98.0)(683.1,98.7)(687.1,98.5)(689.8,97.5)(693.9,98.1)(698.0,98.0)(702.1,98.7)(706.2,98.5)(708.9,99.1)(711.6,98.1)(715.7,98.7)(718.4,99.0)(722.5,96.9)(725.2,97.8)(729.2,97.2)(733.3,97.9)(737.4,97.6)(740.1,97.5)(744.2,96.7)(748.3,95.9)(752.3,96.0)(756.4,97.0)(759.1,98.0)
(760.5,98.2)(763.3,98.7)(766.0,98.3)(768.7,97.8)(771.4,97.5)(774.2,97.3)(776.9,98.5)(779.6,98.8)(782.4,99.0)(785.1,99.3)(787.8,100.7)(790.6,100.8)(793.3,101.0)(796.0,101.3)(798.7,101.0)(801.5,101.5)(804.2,100.2)(806.1,102.7)(808.8,102.7)(811.0,105.9)(813.8,106.9)(816.5,106.7)(817.9,107.5)(820.6,106.0)(823.3,106.9)(826.0,107.2)(828.8,106.4)(832.9,107.2)(835.6,107.7)(838.3,107.5)(841.1,107.7)(844.3,110.2)(846.5,107.4)(849.2,107.2)(852.5,110.4)(855.3,110.5)(858.0,109.2)(860.2,111.9)(862.4,113.2)(865.1,113.0)(867.0,111.2)(869.7,112.5)(872.5,112.4)(874.4,111.2)(876.5,110.7)(879.3,111.9)(882.0,112.5)(884.2,110.9)(886.9,109.9)(889.7,110.9)(892.4,110.7)(894.3,110.4)(897.0,111.0)(899.8,112.5)(902.5,113.0)(905.2,111.9)(907.9,112.9)(910.7,112.0)(913.4,112.7)(916.1,112.4)(918.9,111.7)(921.6,112.4)(924.3,114.1)(927.1,113.6)(929.8,113.7)(932.5,112.2)(935.2,111.0)(938.0,112.2)(940.7,113.6)(943.4,113.7)(946.2,113.9)(948.9,112.5)(951.6,112.7)(954.4,113.4)(957.1,112.5)(959.8,112.4)(962.5,111.7)(965.3,110.5)(968.0,111.5)(970.7,113.4)(973.5,113.2)(976.2,112.0)(978.9,110.0)(981.7,111.9)(984.4,111.5)(987.1,112.0)(989.8,112.5)(992.6,111.9)(995.3,112.9)(998.0,112.7)(1000.8,112.4)(1003.5,112.7)(1006.2,113.4)(1009.0,112.4)(1011.7,113.6)(1014.4,113.7)(1017.1,114.6)(1019.9,114.1)(1022.6,114.7)(1025.3,114.9)(1028.1,115.4)(1030.8,115.7)(1033.5,115.9)(1036.3,116.7)(1039.0,114.4)(1041.7,115.6)(1044.4,114.6)(1047.2,114.7)(1051.3,114.9)(1055.4,114.7)(1058.1,114.7)(1060.8,113.2)
(1063.7,113.1)(1066.4,113.1)(1069.2,114.3)(1071.9,114.3)(1074.6,114.6)(1077.4,114.9)(1080.1,114.7)(1082.8,114.9)(1085.6,113.6)(1088.3,113.3)(1089.7,113.6)(1091.0,112.4)(1093.8,112.9)(1096.5,112.8)(1099.2,114.3)(1102.0,114.5)(1104.7,113.9)(1107.4,112.9)(1110.2,112.6)(1112.9,112.9)(1115.6,113.6)(1118.4,114.0)(1121.1,113.9)(1123.8,114.9)(1126.6,114.5)(1129.3,114.3)(1132.0,116.4)(1134.8,116.0)(1137.5,116.0)(1140.2,115.9)(1143.0,116.4)(1145.7,117.4)(1148.4,117.6)(1151.2,117.6)(1153.9,117.3)(1156.6,117.0)(1159.4,116.7)(1162.1,117.4)(1164.8,117.1)(1167.6,116.9)(1170.3,117.6)(1173.0,116.7)(1175.8,116.2)(1178.5,118.1)(1181.2,119.8)(1184.0,120.7)(1186.7,122.9)(1189.4,122.3)(1192.2,120.7)(1194.9,120.1)(1197.6,119.1)(1200.4,119.5)(1203.1,121.1)(1205.8,120.7)(1208.6,120.4)(1211.3,120.2)(1214.0,119.0)(1216.8,118.7)(1219.5,119.2)(1222.2,119.4)(1225.0,118.5)(1227.7,116.3)(1230.4,117.6)(1233.2,116.4)(1235.9,118.0)(1238.6,116.9)(1240.0,113.8)(1242.7,114.3)(1245.5,116.0)(1248.2,114.7)(1250.9,115.7)(1253.7,114.5)(1256.4,113.6)(1259.1,112.8)(1261.9,114.6)(1264.6,113.6)(1267.3,113.8)(1270.1,115.6)(1272.8,116.3)(1275.5,117.1)(1278.3,117.6)(1281.0,117.4)(1283.7,118.0)(1286.5,116.4)(1289.2,116.9)(1291.9,116.7)(1294.7,115.7)(1297.4,116.6)(1300.1,116.0)(1302.8,116.7)(1305.6,116.7)(1308.3,116.7)(1311.0,115.2)(1313.8,114.2)(1316.5,114.7)(1319.2,115.0)(1322.0,116.0)(1324.7,115.9)(1327.4,116.6)(1330.2,115.9)(1332.9,115.6)(1335.6,114.7)(1338.4,113.8)(1341.1,114.2)(1343.8,114.6)(1346.6,115.0)(1349.3,113.3)(1352.0,112.4)(1354.8,111.8)(1357.5,110.4)(1360.2,110.9)(1363.0,110.8)(1365.7,110.7)(1368.4,111.8)(1371.2,111.9)(1373.9,111.5)(1376.6,110.9)(1379.4,110.8)(1382.1,112.2)(1384.8,111.4)(1387.6,111.2)(1390.3,110.9)(1393.0,110.7)(1395.8,111.1)(1398.5,111.9)(1401.2,113.3)(1404.0,112.6)(1406.7,113.6)(1409.4,113.6)(1412.2,113.3)(1414.9,112.5)(1416.8,112.8)
};
\node[anchor=base, font=\fontsize{16.67}{20}\selectfont, yshift=13.8pt] at (rel axis cs:0.5,1) {Relative Change 3 Years};
\node[anchor=base east, inner sep=0pt, font=\fontsize{8.33}{10}\selectfont, text=wmc] at (axis cs:1463.5,90.29) {TangledLines.net};
\node[rotate=30, text=sekc, font=\labelfont\fontsize{8.33}{10}\selectfont] at (axis cs:1509,112.82) {SEK};
\node[rotate=30, text=nokc, font=\labelfont\fontsize{8.33}{10}\selectfont] at (axis cs:1509,110.28) {NOK};
\node[rotate=30, text=chfc, font=\labelfont\fontsize{8.33}{10}\selectfont] at (axis cs:1507,108.2) {CHF};
\node[rotate=30, text=gbpc, font=\labelfont\fontsize{8.33}{10}\selectfont] at (axis cs:1508,106.71) {GBP};
\node[rotate=30, text=eurc, font=\labelfont\fontsize{8.33}{10}\selectfont] at (axis cs:1510,105.42) {EUR};
\end{axis}
\end{tikzpicture}
\end{document}
